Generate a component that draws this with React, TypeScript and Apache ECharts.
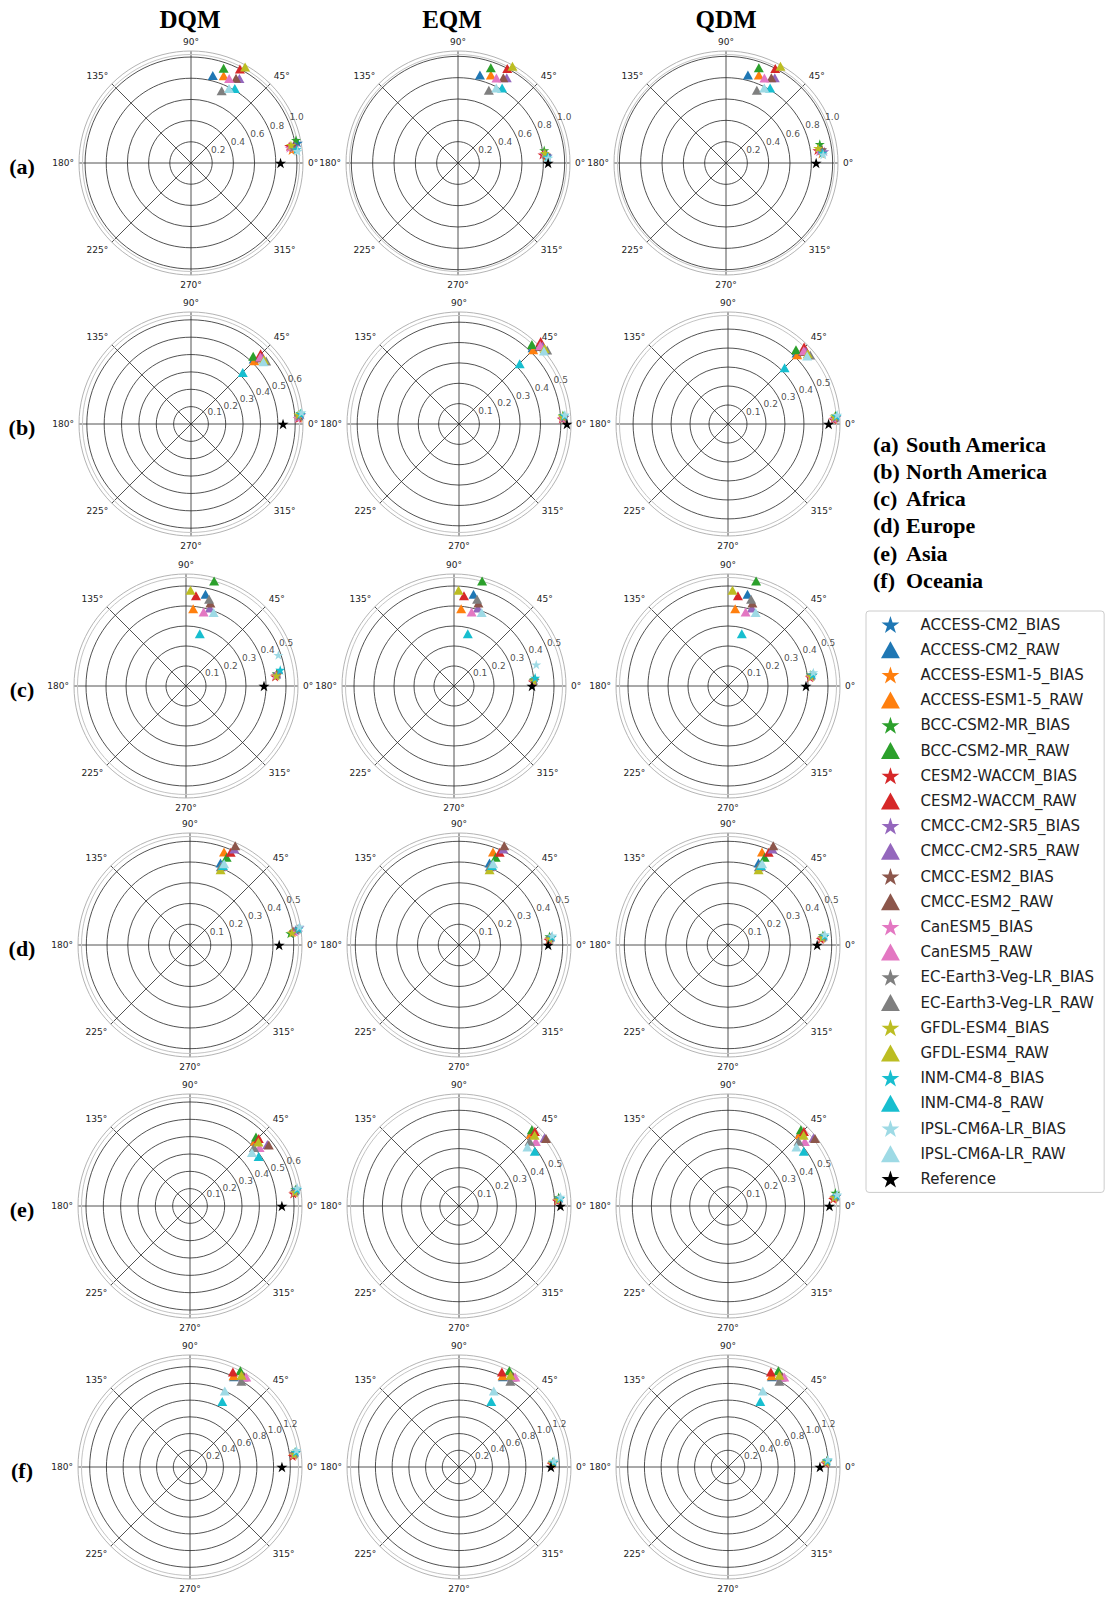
import React, { useEffect, useRef } from 'react';
import * as echarts from 'echarts';

// ---------------- data ----------------
const methods = ['DQM', 'EQM', 'QDM'];
const regionLetters = ['(a)', '(b)', '(c)', '(d)', '(e)', '(f)'];
const regionNames = ['South America', 'North America', 'Africa', 'Europe', 'Asia', 'Oceania'];

const models = [
  'ACCESS-CM2', 'ACCESS-ESM1-5', 'BCC-CSM2-MR', 'CESM2-WACCM', 'CMCC-CM2-SR5', 'CMCC-ESM2',
  'CanESM5', 'EC-Earth3-Veg-LR', 'GFDL-ESM4', 'INM-CM4-8', 'IPSL-CM6A-LR',
];
const modelColors = [
  '#1f77b4', '#ff7f0e', '#2ca02c', '#d62728', '#9467bd', '#8c564b',
  '#e377c2', '#7f7f7f', '#bcbd22', '#17becf', '#9edae5',
];

// RAW model points per region: [angle (deg), radius], same order as models
const rawSouthAmerica = [[76, 0.85], [69.5, 0.88], [71, 0.945], [62.5, 1.0], [60.2, 0.92], [62, 0.905], [65.7, 0.875], [67, 0.74], [60.6, 1.04], [59.5, 0.815], [63, 0.79]];
const rawNorthAmerica = [[46, 0.52], [45, 0.515], [47.5, 0.53], [45.3, 0.57], [43, 0.56], [44, 0.55], [44, 0.555], [40, 0.565], [41.4, 0.56], [44.8, 0.42], [40.7, 0.55]];
const rawAfrica = [[78, 0.469], [84.7, 0.388], [75, 0.543], [83.7, 0.454], [73, 0.408], [73.6, 0.432], [76.6, 0.38], [75.1, 0.449], [87.3, 0.479], [75.2, 0.27], [69.4, 0.393]];
const rawEurope = [[69.6, 0.422], [69.9, 0.477], [67.3, 0.458], [66.3, 0.488], [65.2, 0.51], [65.5, 0.526], [68, 0.41], [68.5, 0.405], [67.9, 0.392], [67.5, 0.415], [67.2, 0.425]];
const rawAsia = [[45.5, 0.54], [45, 0.53], [46.3, 0.551], [44.5, 0.556], [38.5, 0.57], [37.8, 0.575], [40, 0.524], [42.5, 0.5], [43.1, 0.541], [35.8, 0.488], [40.8, 0.472]];
const rawOceania = [[64, 1.2], [64.5, 1.21], [62.4, 1.3], [65.7, 1.247], [59.5, 1.25], [59, 1.26], [58, 1.27], [59.1, 1.197], [60.7, 1.258], [63.8, 0.874], [65.4, 1.0]];

// BIAS-corrected model points per region and method: [angle (deg), radius]
const biasSouthAmericaDQM = [[10.7, 1.027], [7.2, 0.957], [12.3, 1.014], [9.7, 0.94], [9.2, 0.994], [9.7, 0.98], [8.7, 0.94], [8.5, 0.97], [10.1, 0.958], [7.3, 1.005], [6.3, 1.012]];
const biasSouthAmericaEQM = [[5, 0.835], [4.3, 0.83], [8.4, 0.817], [5.6, 0.796], [4.6, 0.844], [5.5, 0.83], [6, 0.81], [5.8, 0.82], [6.5, 0.82], [4, 0.84], [3.2, 0.849]];
const biasSouthAmericaQDM = [[7.5, 0.905], [5.5, 0.9], [11.4, 0.897], [7.9, 0.865], [6.8, 0.928], [8, 0.91], [7, 0.88], [7.5, 0.895], [9.2, 0.875], [6, 0.91], [4.9, 0.915]];
const biasNorthAmericaDQM = [[4.5, 0.63], [3.5, 0.625], [5.5, 0.632], [3, 0.62], [4.8, 0.638], [4.2, 0.628], [3.2, 0.615], [4, 0.622], [5, 0.62], [5.2, 0.635], [6, 0.64]];
const biasNorthAmericaEQM = [[3.5, 0.515], [3, 0.51], [4.8, 0.512], [2.8, 0.505], [3.8, 0.52], [3.4, 0.514], [3, 0.508], [3.6, 0.517], [4.2, 0.51], [4.5, 0.518], [5, 0.522]];
const biasNorthAmericaQDM = [[3.2, 0.565], [2.6, 0.56], [4.5, 0.568], [2.4, 0.555], [3.6, 0.572], [3.2, 0.566], [2.8, 0.558], [3.4, 0.569], [3.9, 0.562], [4.2, 0.574], [4.8, 0.578]];
const biasAfricaDQM = [[7.5, 0.46], [6.5, 0.452], [8, 0.458], [6, 0.448], [7.8, 0.465], [7, 0.457], [6.8, 0.45], [7.2, 0.462], [6.5, 0.455], [9.7, 0.478], [18.5, 0.487]];
const biasAfricaEQM = [[4, 0.4], [3.5, 0.398], [4.8, 0.402], [3, 0.395], [4.2, 0.405], [3.8, 0.4], [3.3, 0.397], [4, 0.403], [3.6, 0.399], [5.8, 0.408], [14.6, 0.425]];
const biasAfricaQDM = [[7, 0.42], [6.3, 0.415], [7.8, 0.418], [6, 0.412], [7.3, 0.425], [6.8, 0.42], [6.5, 0.414], [7, 0.422], [6.6, 0.417], [7.6, 0.428], [9, 0.432]];
const biasEuropeDQM = [[8, 0.515], [7, 0.5], [6.6, 0.487], [7.5, 0.505], [9.2, 0.535], [8.5, 0.525], [7.2, 0.51], [8, 0.52], [6.8, 0.495], [8.5, 0.53], [9.5, 0.535]];
const biasEuropeEQM = [[4.2, 0.44], [3.6, 0.435], [5.5, 0.438], [3.2, 0.432], [4.8, 0.448], [4.4, 0.442], [3.8, 0.436], [4.5, 0.445], [4, 0.437], [5, 0.45], [5.8, 0.452]];
const biasEuropeQDM = [[4.6, 0.458], [4, 0.452], [5.8, 0.46], [3.6, 0.448], [5.2, 0.466], [4.8, 0.46], [4.2, 0.454], [5, 0.463], [4.4, 0.456], [5.4, 0.468], [6.2, 0.47]];
const biasAsiaDQM = [[8, 0.612], [7.2, 0.605], [9, 0.615], [6.8, 0.6], [8.6, 0.622], [8.2, 0.615], [7.5, 0.606], [8, 0.618], [7.4, 0.61], [8.8, 0.625], [9.6, 0.628]];
const biasAsiaEQM = [[3.8, 0.52], [3.2, 0.515], [5, 0.522], [3, 0.512], [4.2, 0.528], [3.9, 0.522], [3.4, 0.516], [4, 0.525], [3.6, 0.518], [4.5, 0.53], [5.2, 0.533]];
const biasAsiaQDM = [[4.8, 0.56], [4.2, 0.555], [7, 0.565], [3.8, 0.55], [5.2, 0.568], [4.9, 0.562], [4.4, 0.556], [5, 0.565], [4.6, 0.558], [5.5, 0.57], [6, 0.574]];
const biasOceaniaDQM = [[7.2, 1.258], [6.5, 1.245], [8.2, 1.27], [6, 1.235], [7.8, 1.275], [7.4, 1.262], [6.8, 1.25], [7.5, 1.268], [6.9, 1.255], [8, 1.28], [9, 1.29]];
const biasOceaniaEQM = [[2.4, 1.12], [2, 1.115], [3.2, 1.125], [1.8, 1.11], [2.8, 1.13], [2.5, 1.122], [2.2, 1.116], [2.6, 1.126], [2.3, 1.118], [3, 1.132], [3.8, 1.14]];
const biasOceaniaQDM = [[2.9, 1.18], [2.4, 1.172], [3.8, 1.185], [2.2, 1.168], [3.3, 1.19], [3, 1.182], [2.6, 1.175], [3.1, 1.186], [2.8, 1.178], [3.6, 1.195], [4.5, 1.2]];

// Reference standard deviation per region (angle 0)
const referenceStd = [0.845, 0.53, 0.39, 0.43, 0.53, 1.1];

// radial axis maximum per region x method
const radiusMaxDQM = [1.057, 0.645, 0.56, 0.54, 0.646, 1.34];
const radiusMaxEQM = [1.05, 0.55, 0.56, 0.54, 0.585, 1.34];
const radiusMaxQDM = [1.05, 0.59, 0.56, 0.54, 0.585, 1.34];
const ringStep = [0.2, 0.1, 0.1, 0.1, 0.1, 0.2];

// radial tick labels per region x method
const radialTicksDQM = [[0.2, 0.4, 0.6, 0.8, 1.0], [0.1, 0.2, 0.3, 0.4, 0.5, 0.6], [0.1, 0.2, 0.3, 0.4, 0.5], [0.1, 0.2, 0.3, 0.4, 0.5], [0.1, 0.2, 0.3, 0.4, 0.5, 0.6], [0.2, 0.4, 0.6, 0.8, 1.0, 1.2]];
const radialTicksEQM = [[0.2, 0.4, 0.6, 0.8, 1.0], [0.1, 0.2, 0.3, 0.4, 0.5], [0.1, 0.2, 0.3, 0.4, 0.5], [0.1, 0.2, 0.3, 0.4, 0.5], [0.1, 0.2, 0.3, 0.4, 0.5], [0.2, 0.4, 0.6, 0.8, 1.0, 1.2]];
const radialTicksQDM = [[0.2, 0.4, 0.6, 0.8, 1.0], [0.1, 0.2, 0.3, 0.4, 0.5], [0.1, 0.2, 0.3, 0.4, 0.5], [0.1, 0.2, 0.3, 0.4, 0.5], [0.1, 0.2, 0.3, 0.4, 0.5], [0.2, 0.4, 0.6, 0.8, 1.0, 1.2]];

const rawByRegion = [rawSouthAmerica, rawNorthAmerica, rawAfrica, rawEurope, rawAsia, rawOceania];
const biasByRegion = [
  [biasSouthAmericaDQM, biasSouthAmericaEQM, biasSouthAmericaQDM],
  [biasNorthAmericaDQM, biasNorthAmericaEQM, biasNorthAmericaQDM],
  [biasAfricaDQM, biasAfricaEQM, biasAfricaQDM],
  [biasEuropeDQM, biasEuropeEQM, biasEuropeQDM],
  [biasAsiaDQM, biasAsiaEQM, biasAsiaQDM],
  [biasOceaniaDQM, biasOceaniaEQM, biasOceaniaQDM],
];
const radiusMaxByMethod = [radiusMaxDQM, radiusMaxEQM, radiusMaxQDM];
const radialTicksByMethod = [radialTicksDQM, radialTicksEQM, radialTicksQDM];

// ---------------- layout ----------------
const PANEL_R = 112;
const rowY = [163, 424, 686, 945, 1206, 1467];
const colX = [
  [191, 458, 726],
  [191, 459, 728],
  [186, 454, 728],
  [190, 459, 728],
  [190, 459, 728],
  [190, 459, 728],
];
const titleX = [190, 452, 726];

const SERIF = '"Liberation Serif", "Times New Roman", serif';
const SANS = '"DejaVu Sans", sans-serif';

const starPath = (() => {
  const pts: string[] = [];
  for (let k = 0; k < 10; k++) {
    const a = ((-90 + k * 36) * Math.PI) / 180;
    const rr = k % 2 === 0 ? 10 : 3.82;
    pts.push(`${(rr * Math.cos(a)).toFixed(3)} ${(rr * Math.sin(a)).toFixed(3)}`);
  }
  return 'path://M' + pts.join(' L') + ' Z';
})();
const trianglePath = 'path://M0 -10 L10 8 L-10 8 Z';

function buildOption() {
  const polar: any[] = [];
  const angleAxis: any[] = [];
  const radiusAxis: any[] = [];
  const series: any[] = [];
  const N = 18;

  for (let r = 0; r < 6; r++) {
    for (let m = 0; m < 3; m++) {
      const idx = r * 3 + m;
      const cx = colX[r][m];
      const cy = rowY[r];
      const rmax = radiusMaxByMethod[m][r];
      const step = ringStep[r];
      const nNice = Math.floor(rmax / step + 1e-9) + 1;
      const extra = Math.abs(rmax - (nNice - 1) * step) > 1e-9 ? 1 : 0;
      const ringColors: string[] = [];
      for (let k = 0; k < nNice; k++) ringColors.push('#262626');
      if (extra) ringColors.push('rgba(0,0,0,0)');

      polar.push({ center: [cx, cy], radius: PANEL_R });
      angleAxis.push({
        polarIndex: idx,
        type: 'value',
        min: 0,
        max: 360,
        interval: 45,
        startAngle: 0,
        clockwise: false,
        axisLine: { show: true, lineStyle: { color: '#b4b4b4', width: 1 } },
        axisTick: { show: false },
        axisLabel: {
          show: true,
          margin: 5,
          color: '#222',
          fontSize: 9,
          fontFamily: SANS,
          formatter: (v: number) => (v >= 360 ? '' : `${v}°`),
        },
        splitLine: { show: true, lineStyle: { color: '#262626', width: 0.8 } },
      });
      radiusAxis.push({
        polarIndex: idx,
        type: 'value',
        min: 0,
        max: rmax,
        interval: step,
        axisLine: { show: false },
        axisTick: { show: false },
        axisLabel: { show: false },
        splitLine: { show: true, lineStyle: { color: ringColors, width: 0.8 } },
      });

      // radial tick labels at 22.5°
      series.push({
        name: 'radial-labels',
        type: 'scatter',
        coordinateSystem: 'polar',
        polarIndex: idx,
        silent: true,
        symbolSize: 1,
        itemStyle: { color: 'rgba(0,0,0,0)' },
        label: {
          show: true,
          position: [1, 0],
          align: 'left',
          verticalAlign: 'bottom',
          fontSize: 9,
          fontFamily: SANS,
          color: '#222',
          formatter: (p: any) => Number(p.value[0]).toFixed(1),
        },
        data: radialTicksByMethod[m][r].map((t) => [t, 22.5]),
        z: 3,
      });

      const raw = rawByRegion[r];
      const bias = biasByRegion[r][m];
      for (let k = 0; k < models.length; k++) {
        series.push({
          name: `${models[k]}_BIAS`,
          type: 'scatter',
          coordinateSystem: 'polar',
          polarIndex: idx,
          symbol: starPath,
          symbolKeepAspect: true,
          symbolSize: 10,
          clip: false,
          itemStyle: { color: modelColors[k], opacity: 1 },
          data: [[bias[k][1], bias[k][0]]],
          z: 4,
        });
        series.push({
          name: `${models[k]}_RAW`,
          type: 'scatter',
          coordinateSystem: 'polar',
          polarIndex: idx,
          symbol: trianglePath,
          symbolKeepAspect: true,
          symbolSize: 10,
          clip: false,
          itemStyle: { color: modelColors[k], opacity: 1 },
          data: [[raw[k][1], raw[k][0]]],
          z: 4,
        });
      }
      series.push({
        name: 'Reference',
        type: 'scatter',
        coordinateSystem: 'polar',
        polarIndex: idx,
        symbol: starPath,
        symbolKeepAspect: true,
        symbolSize: 11,
        clip: false,
        itemStyle: { color: '#000', opacity: 1 },
        data: [[referenceStd[r], 0]],
        z: 5,
      });
    }
  }

  // inner companion of the outer boundary (double light-gray rim)
  for (let r = 0; r < 6; r++) {
    for (let m = 0; m < 3; m++) {
      const idx = N + r * 3 + m;
      polar.push({ center: [colX[r][m], rowY[r]], radius: PANEL_R - 3.5 });
      angleAxis.push({
        polarIndex: idx,
        type: 'value',
        min: 0,
        max: 360,
        startAngle: 0,
        axisLine: { show: true, lineStyle: { color: '#c4c4c4', width: 1 } },
        axisTick: { show: false },
        axisLabel: { show: false },
        splitLine: { show: false },
      });
      radiusAxis.push({
        polarIndex: idx,
        type: 'value',
        min: 0,
        max: 1,
        axisLine: { show: false },
        axisTick: { show: false },
        axisLabel: { show: false },
        splitLine: { show: false },
      });
    }
  }

  const legendData: any[] = [];
  models.forEach((mName) => {
    legendData.push({ name: `${mName}_BIAS`, icon: starPath });
    legendData.push({ name: `${mName}_RAW`, icon: trianglePath });
  });
  legendData.push({ name: 'Reference', icon: starPath });

  const graphics: any[] = [];
  methods.forEach((t, i) => {
    graphics.push({
      type: 'text',
      x: titleX[i],
      y: 19,
      style: { text: t, font: `bold 25px ${SERIF}`, fill: '#000', textAlign: 'center', textVerticalAlign: 'middle' },
    });
  });
  regionLetters.forEach((t, i) => {
    graphics.push({
      type: 'text',
      x: 22,
      y: rowY[i] + 3,
      style: { text: t, font: `bold 22px ${SERIF}`, fill: '#000', textAlign: 'center', textVerticalAlign: 'middle' },
    });
    graphics.push({
      type: 'text',
      x: 873,
      y: 444 + i * 27.3,
      style: { text: t, font: `bold 22px ${SERIF}`, fill: '#000', textAlign: 'left', textVerticalAlign: 'middle' },
    });
    graphics.push({
      type: 'text',
      x: 906,
      y: 444 + i * 27.3,
      style: { text: regionNames[i], font: `bold 22px ${SERIF}`, fill: '#000', textAlign: 'left', textVerticalAlign: 'middle' },
    });
  });

  return {
    animation: false,
    backgroundColor: '#ffffff',
    polar,
    angleAxis,
    radiusAxis,
    series,
    legend: {
      orient: 'vertical',
      left: 866,
      top: 611,
      itemWidth: 50,
      itemHeight: 17,
      itemGap: 8.2,
      padding: [5, 10, 5, 15],
      borderColor: '#cccccc',
      borderWidth: 1,
      borderRadius: 3,
      backgroundColor: '#ffffff',
      selectedMode: false,
      textStyle: { fontSize: 15, color: '#222', fontFamily: SANS },
      data: legendData,
    },
    graphic: { elements: graphics },
  };
}

export default function App() {
  const ref = useRef<HTMLDivElement | null>(null);
  useEffect(() => {
    document.body.style.margin = '0';
    if (!ref.current) return;
    const chart = echarts.init(ref.current, undefined, { renderer: 'svg' });
    chart.setOption(buildOption() as any);
    return () => {
      chart.dispose();
    };
  }, []);
  return <div ref={ref} style={{ width: 1111, height: 1601, background: '#fff' }} />;
}
